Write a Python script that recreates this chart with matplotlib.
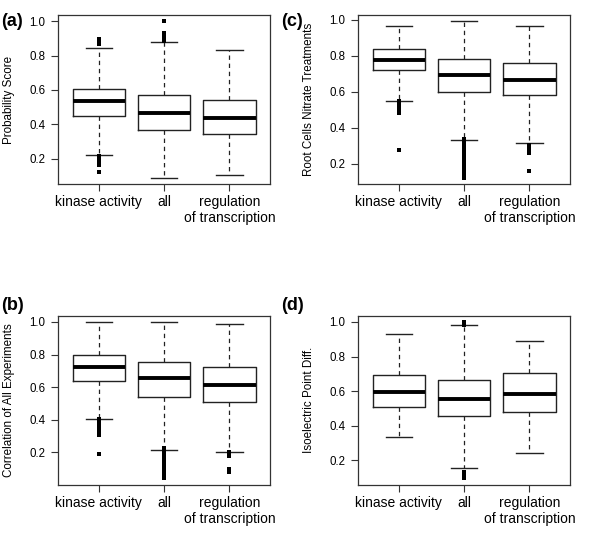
import matplotlib
matplotlib.use("Agg")
import matplotlib.pyplot as plt

plt.rcParams['font.family'] = ['Liberation Sans', 'DejaVu Sans']

categories = ["kinase activity", "all", "regulation\nof transcription"]

# Each box: (whislo, q1, median, q3, whishi)
a_stats = [(0.222, 0.449, 0.534, 0.606, 0.845),
           (0.088, 0.369, 0.466, 0.569, 0.880),
           (0.103, 0.344, 0.439, 0.540, 0.831)]
a_fliers = [[0.897, 0.885, 0.870, 0.212, 0.195, 0.175, 0.160, 0.120],
            [1.000, 0.930, 0.915, 0.900, 0.885],
            []]

c_stats = [(0.547, 0.721, 0.777, 0.837, 0.963),
           (0.332, 0.600, 0.695, 0.781, 0.991),
           (0.317, 0.582, 0.666, 0.757, 0.963)]
c_fliers = [[0.550, 0.540, 0.530, 0.520, 0.510, 0.500, 0.490, 0.480, 0.275],
            [0.340, 0.330, 0.320, 0.310, 0.300, 0.290, 0.280, 0.270, 0.260,
             0.250, 0.240, 0.230, 0.220, 0.210, 0.200, 0.190, 0.180, 0.170,
             0.160, 0.150, 0.140, 0.130, 0.123],
            [0.305, 0.290, 0.275, 0.260, 0.160]]

b_stats = [(0.403, 0.640, 0.723, 0.799, 1.000),
           (0.216, 0.542, 0.654, 0.755, 1.000),
           (0.200, 0.510, 0.612, 0.723, 0.990)]
b_fliers = [[0.405, 0.395, 0.385, 0.375, 0.365, 0.355, 0.345, 0.335, 0.325,
             0.315, 0.308, 0.192],
            [0.225, 0.215, 0.205, 0.195, 0.185, 0.175, 0.165, 0.155, 0.145,
             0.135, 0.125, 0.115, 0.105, 0.095, 0.085, 0.075, 0.065, 0.055,
             0.045, 0.039],
            [0.200, 0.185, 0.175, 0.095, 0.080]]

d_stats = [(0.334, 0.507, 0.597, 0.695, 0.929),
           (0.158, 0.459, 0.557, 0.666, 0.981),
           (0.242, 0.480, 0.582, 0.705, 0.889)]
d_fliers = [[],
            [1.000, 0.995, 0.985, 0.130, 0.115, 0.095],
            []]

ylabels = {"a": "Probability Score",
           "c": "Root Cells Nitrate Treatments",
           "b": "Correlation of All Experiments",
           "d": "Isoelectric Point Diff."}
yticks = [0.2, 0.4, 0.6, 0.8, 1.0]

fig = plt.figure(figsize=(6.0, 5.36), dpi=100)

W, H = 600.0, 536.0
panels = {
    "a": (a_stats, a_fliers, 58.3, 15.0),
    "c": (c_stats, c_fliers, 358.3, 15.0),
    "b": (b_stats, b_fliers, 58.3, 315.7),
    "d": (d_stats, d_fliers, 358.3, 315.7),
}
aw, ah = 211.7, 169.0
label_pos = {"a": (1.5, 21), "c": (281.5, 21), "b": (1.5, 306), "d": (281.5, 306)}

edge = "#222222"
for key, (stats, fliers, x0, y0) in panels.items():
    ax = fig.add_axes([x0 / W, 1 - (y0 + ah) / H, aw / W, ah / H])
    bx = []
    allvals = []
    for (lo, q1, med, q3, hi), fl in zip(stats, fliers):
        bx.append(dict(whislo=lo, q1=q1, med=med, q3=q3, whishi=hi, fliers=fl))
        allvals += [lo, q1, med, q3, hi] + list(fl)
    ax.bxp(bx, positions=[1, 2, 3], widths=0.8, capwidths=0.4,
           patch_artist=False, showfliers=True,
           boxprops=dict(color=edge, linewidth=1.0),
           medianprops=dict(color="black", linewidth=2.8, solid_capstyle="butt"),
           whiskerprops=dict(color=edge, linewidth=0.9, linestyle=(0, (3.5, 3))),
           capprops=dict(color=edge, linewidth=1.0),
           flierprops=dict(marker="s", markersize=3.0, markerfacecolor="black",
                           markeredgecolor="black", markeredgewidth=0, linestyle="none"))
    lo, hi = min(allvals), max(allvals)
    pad = 0.04 * (hi - lo)
    ax.set_ylim(lo - pad, hi + pad)
    ax.set_xlim(0.38, 3.62)
    ax.set_yticks(yticks)
    ax.set_yticklabels(["%.1f" % t for t in yticks])
    ax.set_xticks([1, 2, 3])
    ax.set_xticklabels(categories, fontsize=10, linespacing=1.2)
    ax.tick_params(axis="y", labelsize=8.3, length=5, width=0.8, color="#333333", pad=4.3)
    ax.tick_params(axis="x", length=5, width=0.8, color="#333333", pad=3)
    for s in ax.spines.values():
        s.set_color("#333333")
        s.set_linewidth(0.9)
    ax.set_ylabel(ylabels[key], fontsize=8.4)
    ax.yaxis.set_label_coords(-0.205, 0.5)
    lx, ly = label_pos[key]
    fig.text(lx / W, 1 - ly / H, "(%s)" % key, fontsize=13, fontweight="bold",
             ha="left", va="center")

fig.savefig("out.png", dpi=100)
